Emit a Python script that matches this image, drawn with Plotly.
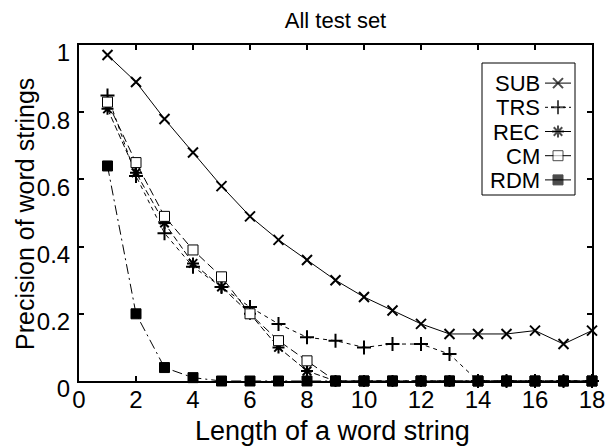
import plotly.graph_objects as go

# ---- data ----
lengths = list(range(1, 19))
sub = [0.97, 0.89, 0.78, 0.68, 0.58, 0.49, 0.42, 0.36, 0.30, 0.25, 0.21, 0.17, 0.14, 0.14, 0.14, 0.15, 0.11, 0.15]
trs = [0.85, 0.61, 0.44, 0.34, 0.28, 0.22, 0.17, 0.13, 0.12, 0.10, 0.11, 0.11, 0.08, 0, 0, 0, 0, 0]
rec = [0.81, 0.62, 0.47, 0.35, 0.28, 0.20, 0.10, 0.03, 0, 0, 0, 0, 0, 0, 0, 0, 0, 0]
cm = [0.83, 0.65, 0.49, 0.39, 0.31, 0.20, 0.12, 0.06, 0, 0, 0, 0, 0, 0, 0, 0, 0, 0]
rdm = [0.64, 0.20, 0.04, 0.01, 0, 0, 0, 0, 0, 0, 0, 0, 0, 0, 0, 0, 0, 0]
series_names = ["SUB", "TRS", "REC", "CM", "RDM"]
x_ticks = [0, 2, 4, 6, 8, 10, 12, 14, 16, 18]
y_ticks = [0, 0.2, 0.4, 0.6, 0.8, 1]
y_ticklabels = ["0", "0.2", "0.4", "0.6", "0.8", "1"]
title_text = "All test set"
x_title = "Length of a word string"
y_title = "Precision of word strings"

FONT = "Liberation Sans, Arial, Helvetica, sans-serif"
K = "black"

styles = {
    "SUB": dict(dash="solid", symbol="x-thin", size=10, mw=2, fill=K),
    "TRS": dict(dash="4px,4px", symbol="cross-thin", size=10, mw=2, fill=K),
    "REC": dict(dash="6px,3px", symbol="asterisk", size=10, mw=2, fill=K),
    "CM": dict(dash="8px,4px", symbol="square", size=10, mw=1, fill="white"),
    "RDM": dict(dash="10px,4px,2px,4px", symbol="square", size=10, mw=1, fill=K),
}
values = {"SUB": sub, "TRS": trs, "REC": rec, "CM": cm, "RDM": rdm}

fig = go.Figure()
for name in series_names:
    s = styles[name]
    fig.add_trace(go.Scatter(
        x=lengths, y=values[name], mode="lines+markers", name=name,
        line=dict(color=K, width=1, dash=s["dash"]),
        marker=dict(symbol=s["symbol"], size=s["size"], color=s["fill"],
                    line=dict(color=K, width=s["mw"])),
        showlegend=False, cliponaxis=False,
    ))

# ---- custom legend (text left, sample right) ----
L, R, T, B = 79, 592, 45, 381
def px(xp): return (xp - L) / (R - L)
def py(yp): return (B - yp) / (B - T)

entry_y = [83, 107, 132, 156, 180]
fig.add_shape(type="rect", xref="paper", yref="paper",
              x0=px(482), x1=px(575), y0=py(195), y1=py(63),
              line=dict(color=K, width=1), fillcolor="white", layer="below")
fig.update_layout(
    xaxis2=dict(domain=[px(545), px(571)], range=[0, 1], visible=False, anchor="y2", fixedrange=True),
    yaxis2=dict(domain=[py(192), py(71)], range=[4.5, -0.5], visible=False, anchor="x2", fixedrange=True),
)
for i, name in enumerate(series_names):
    s = styles[name]
    fig.add_trace(go.Scatter(
        x=[0, 0.5, 1], y=[i, i, i], xaxis="x2", yaxis="y2", mode="lines+markers",
        line=dict(color=K, width=1, dash="solid" if name != "TRS" else "3px,3px"),
        marker=dict(symbol=s["symbol"], size=[0, s["size"], 0], color=s["fill"],
                    line=dict(color=K, width=s["mw"])),
        showlegend=False, hoverinfo="skip",
    ))
    fig.add_annotation(xref="paper", yref="paper", x=px(542), y=py(entry_y[i]),
                       text=name, showarrow=False, xanchor="right", yanchor="middle",
                       font=dict(family=FONT, size=22, color=K))

# axis titles as annotations (fixed positions)
fig.add_annotation(xref="paper", yref="paper", x=px(332), y=py(431), text=x_title,
                   showarrow=False, xanchor="center", yanchor="middle",
                   font=dict(family=FONT, size=27, color=K))
fig.add_annotation(xref="paper", yref="paper", x=px(25), y=py(214), text=y_title,
                   showarrow=False, xanchor="center", yanchor="middle", textangle=-90,
                   font=dict(family=FONT, size=25, color=K))

axis_common = dict(showline=True, linecolor=K, linewidth=2, mirror="ticks",
                   ticks="inside", ticklen=5, tickwidth=1.5, tickcolor=K,
                   showgrid=False, zeroline=False, automargin=False,
                   tickfont=dict(family=FONT, size=24, color=K))

fig.update_layout(
    width=607, height=446,
    margin=dict(l=L, r=607 - R, t=T, b=446 - B, autoexpand=False),
    paper_bgcolor="white", plot_bgcolor="white",
    font=dict(family=FONT, color=K),
    title=dict(text=title_text, x=0.5, xref="paper", y=1 - 20 / 446, yref="container",
               xanchor="center", yanchor="middle", font=dict(family=FONT, size=22, color=K)),
    xaxis=dict(range=[0, 18], tickvals=x_ticks, ticktext=[str(v) for v in x_ticks],
               ticklabelstandoff=-4, **axis_common),
    yaxis=dict(range=[0, 1], tickvals=y_ticks, ticktext=y_ticklabels,
               ticklabelshift=8, ticklabelstandoff=2, **axis_common),
)

fig.write_html("out.html", config={"displayModeBar": False},
               post_script="document.body.style.margin='0';")
